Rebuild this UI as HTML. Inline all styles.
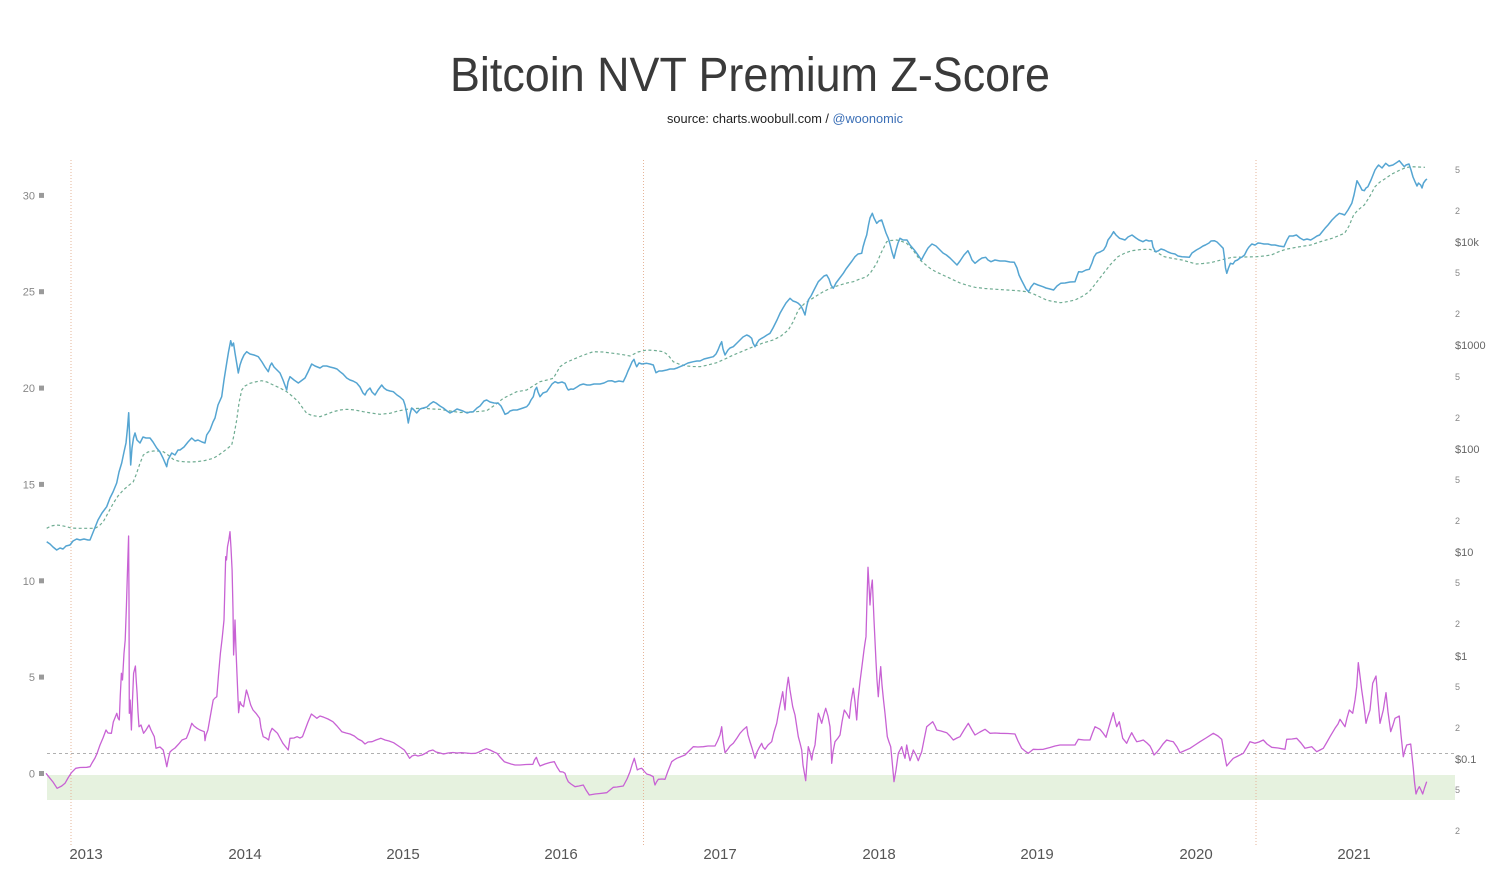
<!DOCTYPE html>
<html>
<head>
<meta charset="utf-8">
<style>
html,body{margin:0;padding:0;background:#fff;}
svg{display:block;}
</style>
</head>
<body>
<svg width="1498" height="894" viewBox="0 0 1498 894" xmlns="http://www.w3.org/2000/svg">
<rect x="0" y="0" width="1498" height="894" fill="#ffffff"/>

<!-- Title -->
<text x="750" y="91" text-anchor="middle" font-family="Liberation Sans, sans-serif" font-size="48" fill="#3a3a3a" textLength="600" lengthAdjust="spacingAndGlyphs">Bitcoin NVT Premium Z-Score</text>
<text x="667" y="123" font-family="Liberation Sans, sans-serif" font-size="12.5" fill="#222" textLength="236" lengthAdjust="spacingAndGlyphs">source: charts.woobull.com / <tspan fill="#3b6fb6">@woonomic</tspan></text>

<!-- green band -->
<rect x="47" y="775" width="1408" height="25" fill="#e6f2df"/>

<!-- dashed z=1 line -->
<line x1="47" y1="753.5" x2="1455" y2="753.5" stroke="#b0b0b0" stroke-width="1" stroke-dasharray="3,3"/>

<!-- halving dotted lines -->
<g stroke="#e6b498" stroke-width="1" stroke-dasharray="1,2">
<line x1="71" y1="160" x2="71" y2="845"/>
<line x1="643.5" y1="160" x2="643.5" y2="845"/>
<line x1="1256" y1="160" x2="1256" y2="845"/>
</g>

<!-- left axis -->
<g font-family="Liberation Sans, sans-serif" font-size="11" fill="#888" text-anchor="end">
<text x="35" y="199.4">30</text>
<text x="35" y="295.7">25</text>
<text x="35" y="392.1">20</text>
<text x="35" y="488.4">15</text>
<text x="35" y="584.8">10</text>
<text x="35" y="681.1">5</text>
<text x="35" y="777.5">0</text>
</g>
<g fill="#9a9a9a">
<rect x="39" y="192.9" width="5" height="5"/>
<rect x="39" y="289.2" width="5" height="5"/>
<rect x="39" y="385.6" width="5" height="5"/>
<rect x="39" y="481.9" width="5" height="5"/>
<rect x="39" y="578.3" width="5" height="5"/>
<rect x="39" y="674.6" width="5" height="5"/>
<rect x="39" y="771" width="5" height="5"/>
</g>

<!-- right axis -->
<g font-family="Liberation Sans, sans-serif" fill="#888" font-size="9">
<text x="1455" y="173">5</text>
<text x="1455" y="214">2</text>
<text x="1455" y="276">5</text>
<text x="1455" y="317">2</text>
<text x="1455" y="380">5</text>
<text x="1455" y="421">2</text>
<text x="1455" y="483">5</text>
<text x="1455" y="524">2</text>
<text x="1455" y="586">5</text>
<text x="1455" y="627">2</text>
<text x="1455" y="690">5</text>
<text x="1455" y="731">2</text>
<text x="1455" y="793">5</text>
<text x="1455" y="834">2</text>
</g>
<g font-family="Liberation Sans, sans-serif" fill="#666" font-size="11">
<text x="1455" y="246">$10k</text>
<text x="1455" y="349">$1000</text>
<text x="1455" y="453">$100</text>
<text x="1455" y="556">$10</text>
<text x="1455" y="660">$1</text>
<text x="1455" y="763">$0.1</text>
</g>

<!-- x axis labels -->
<g font-family="Liberation Sans, sans-serif" font-size="15" fill="#555" text-anchor="middle">
<text x="86" y="859">2013</text>
<text x="245" y="859">2014</text>
<text x="403" y="859">2015</text>
<text x="561" y="859">2016</text>
<text x="720" y="859">2017</text>
<text x="879" y="859">2018</text>
<text x="1037" y="859">2019</text>
<text x="1196" y="859">2020</text>
<text x="1354" y="859">2021</text>
</g>

<!-- moving average dashed -->
<polyline fill="none" stroke="#6fac92" stroke-width="1.2" stroke-dasharray="3,2.5" points="46.7,528.3 51,526 56.7,525 61,525.5 66.7,526.7 71,528 76.7,528.3 85,528.3 95,528.3 99,526 103.3,521.7 108,513 113.3,503.3 118,496 123.3,490 128,486 133.3,481.7 136,475 140,463.3 143.3,455 148,452 153.3,451 158,451 163.3,451.7 168,455 173.3,459.3 178,461 183.3,461.7 190,462 196.7,461.7 205,460.5 213.3,458.3 218,455.5 223.3,451.7 228,448 231.7,445 234,435 236.7,420 239,403 241.7,390 245,386 250,383.3 255,382 261.7,380.7 267,382 273.3,385 280,388 286.7,391.7 292,396 298.3,401.7 302,407 306.7,413.3 312,415.5 320,416.7 326,414.5 333.3,411.7 340,410 346.7,409.3 355,410 363.3,411.7 371,413 380,414.3 390,413.3 398,411 406.7,409.3 415,408.5 423.3,408.3 432,409 440,409.3 450,411 460,412.5 473,412 486.7,410.7 495,405 503.3,398.3 510,395 516.7,391.7 526.7,390 533,386 540,381.7 547,380 553.3,378.3 557,372 560,366.7 566,362.5 573.3,359.3 580,356.5 586.7,354 593.3,351.7 603,352 613.3,353.3 622,354.5 630,356 638,352 646.7,350 655,350.5 663.3,351.7 668,355 673.3,361.7 680,364.5 686.7,366 693,366.5 700,366.7 708,365 716.7,362.7 725,359 733.3,355 743,351 753.3,346.7 763,343 773.3,340 781,336 788.3,330 793,322 798.3,310 804,304 810,300 817,295.5 823.3,291.7 831,288 840,285 847,283 853.3,281.7 860,279 866.7,276.7 871,272 876.7,263.3 881,253 886.7,241.7 891,240.5 896.7,240 901,241 906.7,243.3 913,250 920,260 926,265 930,268.3 935.7,271.7 945,276 960.7,283.3 968,285.5 975,287.3 985,288.5 996.4,289.3 1007,290 1017.9,290.7 1025,291.5 1032,293.3 1039,296.5 1046.4,300 1053,301.5 1060.7,302.7 1068,301.5 1075,300 1082,296.5 1089.3,291.7 1096,283 1103.6,273.3 1110,265 1117.9,256.7 1125,253 1132,250.7 1141,249.5 1150,249.3 1157,252.5 1164.3,256.7 1173,258.5 1182,260 1189,262 1196.4,264 1203,263.5 1210.7,262.7 1221,260 1232,257.3 1245,257 1257,256.7 1264,256 1271.4,255 1278,252 1285.7,249.3 1298,247 1310.7,245 1321,241.5 1332,238.3 1338,236 1344.6,233.3 1349,226 1353.6,215 1358,210 1364.3,205 1370,196 1375,186.7 1380,182 1385.7,178.3 1392,174 1400,170 1405,168 1410.7,166.7 1418,167 1425,167.3"/>

<!-- price line -->
<polyline fill="none" stroke="#55a5d2" stroke-width="1.5" stroke-linejoin="round" points="46.7,541.7 50,544 53,547 56.7,550 60,548 63,549 66,546 70,545 73,541 76.7,539 80,540 84,539 88,540 90,540 94,530 98,520 102,513 106.7,506.7 110,498 113,492 116.7,483 119,472 121.7,463 124,452 126,443 127.5,428 128.7,412.7 129.7,440 130.7,465 132,448 133.5,438 135,433 137,440 140,443 143,437 146,438 150,438 153,442 156.7,448 160,452 163,458 166.7,466.7 168,460 171.7,453 175,455 178,450 180,450 184,447 188,442 191.7,438 195,441 198,440 202,442 205,443 206.7,435 210,430 213,422 215,418 218,405 221.7,396.7 224,380 226.7,363 228.5,352 230.7,340.7 232,346 233.5,343 235,353 237,365 238.3,373 240,365 241.7,360 244,355 246.7,351.7 250,354 254,355 258.3,356.7 262,362 265,367 268.3,371.7 270,366 271.7,363 274,367 277,370 280,373 283,380 286.7,390 288,382 290,376.7 294,380 298.3,383 301,381 305,378 308,372 311.7,364 315,366 320,368 323,366 326.7,366 330,367 334,368 337,369 340,371.7 343,374 346.7,378 350,380 353,381 356.7,383 360,387 363,393 365,395 367,391 370,388 372,392 375,395 378,390 381.7,385 384,388 386.7,390 390,391 393.3,391.7 397,395 400,397 403.3,400 405,405 406.5,412 408.3,423 410,414 411.7,408 414,410 416.7,413 420,409 423.3,408 427,407 430,404 433.3,401.7 436,403 440,406 443.3,408 447,411 450,413 454,411 457,409 460,410 463,411 467,413 470,412 473.3,411.7 477,408 480,406 484,401 486.7,400 490,402 494,403 498.3,403.3 501,406 503,410 505,414.3 508,413 510,411 513.3,410 517,410 520,409 523,408 526.7,406.7 529,404 531,400 533.3,396.7 535,390 536.7,387.3 538,392 540,396.7 543,393 546.7,391.7 550,387 552,384 555,381.7 558,383 562,382 565,383.3 567,388 568.3,390 571,389 573.3,389.3 577,387 580,385 583.3,384 587,385 590,385 594,384 597,384 600,384 604,383 608,381 611.7,380.7 615,382 619,381 623.3,381.7 626,376 628,371 630,366.7 632,362 634,359.3 635.5,364 636.7,366.7 639,363 642,364 646.7,363.3 650,364 653.3,365 655,370 656,372.7 659,371 662,371 666.7,370 670,369 674,369 677,368 680,366.7 684,365 688,363 693.3,361.7 697,361 700,361 704,359 708,358 713.3,356.7 716,354 718,350 720,345 721.7,341.7 723,349 725,355 728,350 730,348 733.3,346.7 737,343 740,340 743,337 746.7,335 749,336 751.7,338.3 753,343 755,346.7 757,343 759,340 761.7,338.3 764,337 767,335 770,333.3 773,328 777,320 780,313.3 783,308 786,303 790,298.3 793,301 796,302 798.3,303.3 801,306 803,310 805,315 806.5,307 808.3,300 811,296 814,290 818.3,281.7 821,279 824,276 826.7,275 829,279 831,285 833.3,288.3 836,283 839,279 843.3,273.3 846,269 849,265 852,261 855,256.7 858,254 861.7,253.3 863,247 865,240 866.7,235 868.5,225 870,218 872.3,213.3 874,218 876.7,223.3 879,221 881.7,220 884,227 886,233 888.3,238.3 890,244 892,252 894,258.3 896,250 898,243 900,238.3 903,240 907,240 910,245 914.3,250 918,255 921.4,260 924,255 928,248 932,244 936,246 940,250 943,253 946.4,255 950,258 954,262 957,265 960,261 964,255 967.9,250.7 970,255 972,260 975,263.3 979,260 982,258 985.7,257.3 988,260 991,261.7 995,260 1000,261 1005,261 1010,262 1014.3,262.3 1017,268 1019,275 1021.4,280 1024,285 1026,289 1028.6,291.7 1031,287 1034,283.3 1038,285 1042.9,286.7 1046,288 1050,289 1053.6,290 1057,286 1060.7,283.3 1065,283 1070,282 1075,281.7 1077,276 1078.6,271.7 1082,272 1086,270 1089.3,269.3 1092,263 1094,257 1096.4,253.3 1100,252 1103.6,250 1106,246 1108,240 1111,236 1113.6,231.7 1116,235 1119.6,238.3 1122,239 1125,240 1128,237 1132,235 1136,238 1139,240 1142.9,241.7 1146,240 1149,241 1151.8,240.7 1153,247 1155.4,251.7 1158,251 1161,249 1164.3,250 1168,252 1171.4,253.3 1175,254 1178,256 1182,256.7 1186,257 1189.3,257.3 1192,253 1196.4,250 1200,248 1203,246 1205.4,245 1209,243 1211,241 1214.3,240.7 1217,242 1220,245 1223.2,248.3 1224.5,258 1225.5,268 1226.8,273.3 1228.5,268 1230.4,263.3 1233,264 1235,261 1237.5,260 1240,258 1242,257 1244.6,255 1247,250 1249,247 1251.8,244 1255,245 1258,243 1260.7,243.3 1264,244 1268,244 1271.4,245 1275,245 1279,246 1284,246.7 1287,240 1289.3,236 1293,236 1296.4,235 1300,238 1303.6,240 1307,239 1310.7,240 1314,238 1317,236 1319.6,235 1322,232 1325,228.3 1328,225 1332,220 1336,216 1339.3,213.3 1342,214 1344.6,215 1348,210 1351.8,203.3 1354,195 1357,180.7 1360,186 1362,190 1364.3,190.7 1366,188 1367.9,186.7 1371,180 1375,170 1377,167 1378.6,165 1382,168 1385.7,163.3 1389,166 1392.9,165 1396,163 1399.3,160.7 1402,164 1404.3,166.7 1406,165 1409,164 1411,170 1413,177 1415,181.7 1417,186 1418.5,183 1420.7,185 1422,188 1423.5,183 1425.7,180 1427,179"/>

<!-- z-score line -->
<polyline fill="none" stroke="#c862d4" stroke-width="1.3" stroke-linejoin="round" points="46,773.3 50,778.3 53,782 57.1,788.3 61.7,786 65,783.3 68,778 71.4,772.7 75.7,768.3 80,767.5 86.7,767.3 90,766.7 92,763 95,758 97.1,753.3 100,745 103,738 106,730 108,733 111.4,733.3 113.3,722 116.8,713.3 118,718 119.3,720 120.3,695 121.4,673.3 122.5,680 124,653.3 125.2,640 126.4,606.7 127.5,570 128.6,536 129,600 129.3,713.3 130.2,700 131.4,730 132.5,700 133.6,673.3 135.4,666 136.2,680 137.1,693.3 138,712 139,726.7 141,725 143.6,733.3 146,730 149,725 151,730 154.3,736.7 156,748.3 160,747 163.2,750 165,758 166.8,766.7 168.5,758 170,752 172.1,750 175,748 179.3,743.3 182,740 186.4,738.3 189,732 191.8,723.3 194,726 197.1,728.3 200,730 204.3,731.7 205,740.7 206,735 207.9,730 210,718 213.2,700 215,698 216.8,696.7 218.5,675 220.4,653.3 222.2,638 224,620 224.8,590 225.7,556.7 226.5,560 227.5,546.7 228.8,540 230,531.7 231,548 232.1,570 233,610 233.6,655 234.3,640 235,620 236,650 237.1,676.7 238.6,712.7 240,701.7 241.5,705 243.6,706.7 245,698 246.4,690 248,695 250.7,705 253,710 256,713.3 259.6,718.3 261,728 263.2,736.7 266,738 268.6,740 270,733 272.1,728.3 275,731 277.5,733.3 280,738 282.9,743.3 285,746 288.2,750 289,745 290,738.3 294,738 297.1,736.7 300,738 302.5,736.7 305,730 308,722 311.4,714 314,716 316.8,718.3 320,716 323.9,717.3 328,719 332.9,721.7 337,726 341.8,731.7 346,733 350,734 354.3,736 358,739 362,741 365,744 368,742 372.1,741.7 376,740 381,738.3 385,740 389,741 393.6,742.7 397,745 400,747 404.3,750 407,754 409.6,758.3 412,756 415,755 418,756 422.1,755 426,753 429,751 432.9,750 436,752 440,753 443.6,754 448,753 453,752.5 457,753 461.4,752.7 466,753 471,753.5 475.7,753.3 479,752 483,750 486.4,748.7 490,750 494,752 497.1,753.3 500,757 504.3,761.7 508,763 511,764 515,765 520,765 526,764.5 532.9,764.3 534.5,760 536.4,757.3 538,762 540,766 545,764 550,762.5 554.3,761.7 557,767 560,771.7 563,772 565,773.3 566.5,778 568.3,781.7 571,784 575,786.7 579,786 583.3,785 586,790 589.3,795 595,794 600,793.5 606.7,792.7 610,790 613.3,787.3 617,787 620,786.5 623.3,786 627,779 630,771.7 632,765 634.3,758.3 635.8,764 637.3,770 639,769 641.7,768.3 644,771 646.7,774 650,775 653.3,776.7 654,781 655,785 656.5,782 658.3,779.3 662,779 665,779.3 668,771 671.7,761.7 674,760 676.7,758.3 680,757 685,755 689,751 693.3,746.7 698,747 703.3,746.7 708,746 712,746 715,746 717.5,741 720,735 721.7,726.7 723,740 725,752.7 728,749 730,746 733.3,743.3 737,738 740,733.3 743,730 746.7,726.7 748,735 750,741.7 752,748 755,758.3 757,752 759,748 761.7,743.3 763,747 765,749.3 768,745 771.7,741.7 774,732 776.7,723.3 779,710 782.7,691.7 784,702 785,710 786.5,690 788.3,677.3 790,690 792.7,706.7 795,715 798.3,736.7 800,743 801.7,750 803,765 805.7,780.7 807,762 808.3,746.7 810,752 811.7,760 813,752 815,745 817,725 818.3,713.3 820,718 821.7,723.3 824,714 825.7,708.3 828,716 830,726.7 831,745 831.7,763.3 833,752 835,741.7 838,738 840,735 842,722 844.3,710 847,714 849.3,718.3 851,702 853.3,688.3 855,702 856.7,720 858,700 860,681.7 862,666 864,650 865,643 866,636.7 867,600 868,567.3 869,585 870,605 871,590 872.3,580 874,620 876,661.7 877,680 878.3,696.7 879.5,680 880.7,666.7 882,685 883.5,700 885,713.3 887.3,736.7 889,742 890.7,746.7 892,760 894,781.7 896,770 898.3,753.3 900,750 901.7,746.7 903,752 905,758.3 906.7,745 908,752 910,760.7 912,755 913.3,750 916,755 918.3,760.7 920,756 921.7,751.7 924,740 926.7,726.7 930,724 932.7,721.7 935,726 936.7,730 941,731 946.7,732.7 950,736 953.3,740 957,738 960,736.7 964,730 968.3,723.3 972,730 975,735 980,732 985,729.3 990,733.3 995,733 1000,733.3 1008,733.5 1015,734 1018,741 1021.7,748.3 1025,751 1028.3,753.3 1033.3,749.3 1038,749.5 1043.3,749.3 1050,747.5 1055,746 1060,745 1067,745 1075,745 1078.3,739.3 1084,740 1090,740 1092.5,733 1095,726.7 1100,729.3 1103,733 1106,737.3 1108,730 1110,723.3 1113.3,712.7 1115,720 1116.7,726.7 1119.3,721.7 1121,730 1122.7,738.3 1126.7,743.3 1129,738 1131.7,732.7 1134,737 1136.7,741.7 1140,741 1143.3,740 1147,743 1150,746 1152,750 1154,755 1157,752 1160,748.3 1163,744 1166.7,740 1170,741 1173.3,741.7 1177,747 1180,752.7 1185,750.5 1190,748.3 1195,745 1200,741.7 1206,738 1213.3,733.3 1218,736 1221.7,739.3 1224,752 1226.7,766 1230,762 1233.3,758.3 1238,756 1243.3,753.3 1247,747 1250,741.7 1255,743.3 1259,742 1263.3,740 1267,744 1271.7,747.3 1278,748 1285,749.3 1286.7,739.3 1292,739 1296.7,738.3 1301,743 1305,748.3 1311.7,746.7 1316.7,751.7 1320,750 1323.3,748.3 1327,742 1330,736.7 1335,728.3 1338,724 1340,719.3 1342.5,723 1345,726.7 1347,718 1349.3,710 1352.7,713.3 1355,700 1356.7,686.7 1358.3,662.7 1360,676 1361.7,690 1364,706 1366,723.3 1368,716 1370,710 1371.5,695 1372.7,683.3 1376,676 1378,700 1380,723.3 1383.3,710 1386,692.7 1388,712 1390.7,731.7 1393,725 1395,718.3 1399.3,716 1401,735 1403.3,756.7 1405,750 1406.7,745 1410.7,744 1412,756 1413.3,768.3 1414.5,782 1416,794 1417.5,790 1419.3,786.7 1421,790 1422.7,794 1424.5,788 1426.7,781.7"/>

</svg>
</body>
</html>
